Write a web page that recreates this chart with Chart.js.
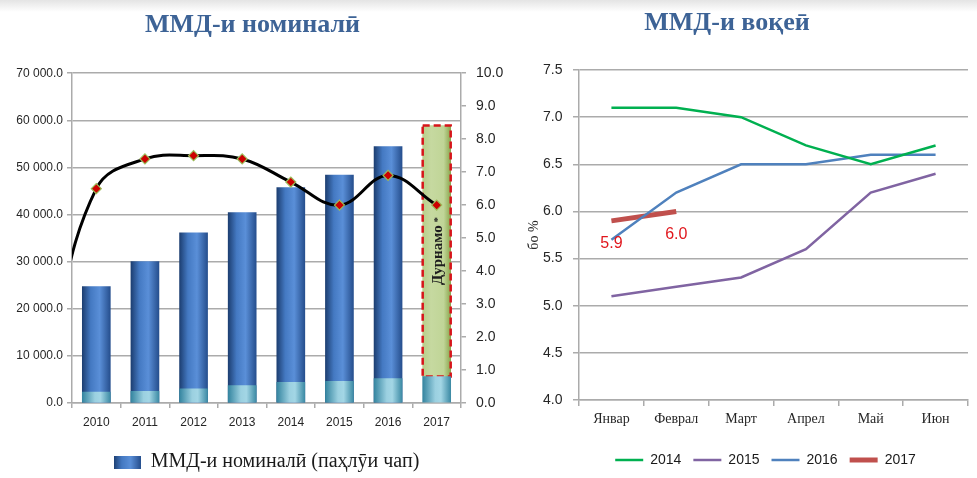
<!DOCTYPE html>
<html>
<head>
<meta charset="utf-8">
<script src="https://cdn.jsdelivr.net/npm/chart.js@4.4.1/dist/chart.umd.min.js"></script>
<style>
  html, body { margin: 0; padding: 0; }
  body {
    width: 977px; height: 478px; position: relative; overflow: hidden;
    background: linear-gradient(#e4e4e4 0px, #ffffff 12px, #ffffff 100%);
  }
  #wrapL { position: absolute; left: 0; top: 0; width: 505px; height: 490px; }
  #wrapR { position: absolute; left: 505px; top: 0; width: 472px; height: 490px; }
  #titleR {
    position: absolute; left: 577px; top: 7px; width: 300px; text-align: center;
    font: bold 26px 'Liberation Serif', 'DejaVu Serif', serif; color: #3d6396; line-height: 30px;
  }
</style>
</head>
<body>
<div id="wrapL"><canvas id="gdpChart"></canvas></div>
<div id="wrapR"><canvas id="growthChart"></canvas></div>
<div id="titleR">ММД-и воқеӣ</div>
<script>
// ---- data: left panel (nominal GDP, mln somoni, and real growth %) ----
const years = ['2010', '2011', '2012', '2013', '2014', '2015', '2016', '2017'];
const gdpNominal = [24700, 30000, 36100, 40400, 45700, 48400, 54400, null];
const gdpQ1 = [2300, 2500, 3000, 3700, 4400, 4600, 5200, 5600];
const gdpForecast2017 = 58900;
const growthYears = [2009, 2010, 2011, 2012, 2013, 2014, 2015, 2016, 2017];
const growthRate = [1.4, 6.5, 7.4, 7.5, 7.4, 6.7, 6.0, 6.9, 6.0];

// ---- data: right panel (real growth by month, %) ----
const months = ['Январ', 'Феврал', 'Март', 'Апрел', 'Май', 'Июн'];
const growth2014 = [7.1, 7.1, 7.0, 6.7, 6.5, 6.7];
const growth2015 = [5.1, 5.2, 5.3, 5.6, 6.2, 6.4];
const growth2016 = [5.7, 6.2, 6.5, 6.5, 6.6, 6.6];
const growth2017 = [5.9, 6.0];

const SERIF = "'Liberation Serif', 'DejaVu Serif', serif";
const SANS = "'Liberation Sans', 'DejaVu Sans', sans-serif";
const TITLE_COLOR = '#3d6396';
const GRID = '#ababab';

const BAR_W = 28;
const blueStops = [[0, '#1d3f72'], [0.3, '#4479c2'], [0.62, '#5a8fd8'], [1, '#264f8e']];
const cyanStops = [[0, '#3585a0'], [0.45, '#9bd0e0'], [0.65, '#a3d6e5'], [1, '#3d8ba5']];
const greenStops = [[0, '#b9cf8a'], [0.3, '#c6d9a0'], [0.75, '#c0d597'], [1, '#8aa64e']];

function hGradient(ctx2d, x0, x1, stops) {
  const g = ctx2d.createLinearGradient(x0, 0, x1, 0);
  stops.forEach(s => g.addColorStop(s[0], s[1]));
  return g;
}

function barFill(stops) {
  return function (c) {
    const chart = c.chart;
    const xs = chart.scales.x;
    if (!xs || c.dataIndex === undefined || !chart.chartArea) return stops[2][1];
    const cx = xs.getPixelForValue(c.dataIndex);
    if (!isFinite(cx)) return stops[2][1];
    return hGradient(chart.ctx, cx - BAR_W / 2, cx + BAR_W / 2, stops);
  };
}

function fmtThousands(v) {
  const s = Number(v).toFixed(1);
  const parts = s.split('.');
  return parts[0].replace(/\B(?=(\d{3})+(?!\d))/g, ' ') + '.' + parts[1];
}

// legend swatch for the bar series
const swatch = document.createElement('canvas');
swatch.width = 27; swatch.height = 13;
(function () {
  const sc = swatch.getContext('2d');
  sc.fillStyle = hGradient(sc, 0, 27, blueStops);
  sc.fillRect(0, 0, 27, 13);
})();

const forecastData = years.map((y, i) => (i === years.length - 1 ? [gdpQ1[i], gdpForecast2017] : null));
const growthPoints = growthYears.map((y, i) => ({ x: y, y: growthRate[i] }));

// dashed outline + label for the forecast bar
const forecastPlugin = {
  id: 'forecastBox',
  afterDatasetDraw(chart, args) {
    if (args.index !== 2) return;
    const el = args.meta.data[years.length - 1];
    if (!el) return;
    const ctx = chart.ctx;
    const w = el.width;
    ctx.save();
    ctx.strokeStyle = '#d7141a';
    ctx.lineWidth = 2.5;
    ctx.setLineDash([7, 4]);
    ctx.strokeRect(el.x - w / 2, el.y, w, el.base - el.y);
    ctx.setLineDash([]);
    ctx.translate(el.x, (el.y + el.base) / 2);
    ctx.rotate(-Math.PI / 2);
    ctx.fillStyle = '#1e1e1e';
    ctx.textBaseline = 'middle';
    ctx.textAlign = 'left';
    const main = 'Дурнамо';
    ctx.font = 'bold 15px ' + SERIF;
    const mw = ctx.measureText(main).width;
    ctx.font = 'bold 11px ' + SERIF;
    const sw = ctx.measureText(' *').width;
    const start = -(mw + sw) / 2;
    ctx.font = 'bold 15px ' + SERIF;
    ctx.fillText(main, start, 1);
    ctx.font = 'bold 11px ' + SERIF;
    ctx.fillText(' *', start + mw, 1);
    ctx.restore();
  }
};

new Chart(document.getElementById('gdpChart'), {
  data: {
    labels: years,
    datasets: [
      {
        type: 'line', label: 'growth', data: growthPoints, xAxisID: 'xLine', yAxisID: 'y1',
        borderColor: '#000000', borderWidth: 3, tension: 0.4, clip: 0,
        pointStyle: 'rectRot', pointRadius: 5, pointBackgroundColor: '#cc0000',
        pointBorderColor: '#9bbb59', pointBorderWidth: 1.2, order: 0
      },
      {
        type: 'bar', label: 'q1', data: gdpQ1, yAxisID: 'y', grouped: false,
        barThickness: BAR_W, backgroundColor: barFill(cyanStops), order: 1
      },
      {
        type: 'bar', label: 'forecast', data: forecastData, yAxisID: 'y', grouped: false,
        barThickness: BAR_W, backgroundColor: barFill(greenStops), order: 2
      },
      {
        type: 'bar', label: 'ММД-и номиналӣ (паҳлӯи чап)', data: gdpNominal, yAxisID: 'y', grouped: false,
        barThickness: BAR_W, backgroundColor: barFill(blueStops), order: 3
      }
    ]
  },
  options: {
    responsive: true, maintainAspectRatio: false, animation: false,
    layout: { padding: { left: 0, right: 0, top: 0, bottom: 8 } },
    plugins: {
      title: {
        display: true, text: 'ММД-и номиналӣ', color: TITLE_COLOR,
        font: { family: SERIF, size: 26, weight: 'bold' },
        padding: { top: 10, bottom: 32 }
      },
      legend: {
        position: 'bottom', fullSize: false,
        labels: {
          filter: item => item.datasetIndex === 3,
          usePointStyle: true, pointStyle: swatch, pointStyleWidth: 27,
          color: '#1a1a1a', font: { family: SERIF, size: 20 }, padding: 10
        }
      },
      tooltip: { enabled: false }
    },
    scales: {
      x: {
        type: 'category', offset: true,
        afterFit: s => { s.height = 39; },
        grid: { offset: true, drawOnChartArea: false, color: GRID, tickLength: 5, lineWidth: 1.5 },
        border: { color: GRID, width: 1.5 },
        ticks: { color: '#262626', font: { family: SANS, size: 12 }, padding: 7 }
      },
      xLine: {
        type: 'linear', display: false, min: 2009.5, max: 2017.5
      },
      y: {
        position: 'left', min: 0, max: 70000,
        afterFit: s => { s.width = 72; },
        grid: { color: GRID, lineWidth: 1.5, tickLength: 5 },
        border: { color: GRID, width: 1.5 },
        ticks: { stepSize: 10000, color: '#262626', font: { family: SANS, size: 12 }, padding: 4,
                 callback: v => fmtThousands(v) }
      },
      y1: {
        position: 'right', min: 0, max: 10,
        afterFit: s => { s.width = 44; },
        grid: { drawOnChartArea: false, color: GRID, lineWidth: 1.5, tickLength: 5 },
        border: { color: GRID, width: 1.5 },
        ticks: { stepSize: 1, color: '#262626', font: { family: SANS, size: 14 }, padding: 10,
                 callback: v => Number(v).toFixed(1) }
      }
    }
  },
  plugins: [forecastPlugin]
});

// value labels for 2017 series
const valueLabelPlugin = {
  id: 'valueLabels',
  afterDatasetsDraw(chart) {
    const meta = chart.getDatasetMeta(3);
    const ctx = chart.ctx;
    ctx.save();
    ctx.fillStyle = '#e0161c';
    ctx.font = '16px ' + SANS;
    ctx.textAlign = 'center';
    ctx.textBaseline = 'middle';
    meta.data.forEach((pt, i) => {
      ctx.fillText(growth2017[i].toFixed(1), pt.x, pt.y + 23);
    });
    ctx.restore();
  }
};

function lineSet(label, data, color, width) {
  return { label: label, data: data, borderColor: color, backgroundColor: color,
           borderWidth: width, pointRadius: 0, tension: 0, pointStyle: 'line' };
}

new Chart(document.getElementById('growthChart'), {
  type: 'line',
  data: {
    labels: months,
    datasets: [
      lineSet('2014', growth2014, '#00b050', 2.5),
      lineSet('2015', growth2015, '#8064a2', 2.5),
      lineSet('2016', growth2016, '#4f81bd', 2.5),
      lineSet('2017', growth2017, '#c0504d', 5)
    ]
  },
  options: {
    responsive: true, maintainAspectRatio: false, animation: false,
    layout: { padding: { left: 58, right: 9, top: 70, bottom: 13 } },
    plugins: {
      legend: {
        position: 'bottom',
        labels: {
          usePointStyle: true, pointStyleWidth: 28,
          color: '#1a1a1a', font: { family: SANS, size: 14 }, padding: 12
        }
      },
      tooltip: { enabled: false }
    },
    scales: {
      x: {
        offset: true,
        afterFit: s => { s.height = 41; },
        grid: { offset: true, drawOnChartArea: false, color: GRID, tickLength: 6, lineWidth: 1.5 },
        border: { color: GRID, width: 1.5 },
        ticks: { color: '#262626', font: { family: SERIF, size: 14 }, padding: 5 }
      },
      y: {
        min: 4.0, max: 7.5,
        afterFit: s => { s.width = 16; },
        title: { display: true, text: 'бо %', color: '#262626', font: { family: SERIF, size: 14 },
                 padding: { top: -37, bottom: 0 } },
        grid: { color: GRID, lineWidth: 1.5, tickLength: 6 },
        border: { color: GRID, width: 1.5 },
        ticks: { stepSize: 0.5, color: '#262626', font: { family: SANS, size: 14 },
                 mirror: true, padding: -36,
                 callback: v => Number(v).toFixed(1) }
      }
    }
  },
  plugins: [valueLabelPlugin]
});
</script>
</body>
</html>
